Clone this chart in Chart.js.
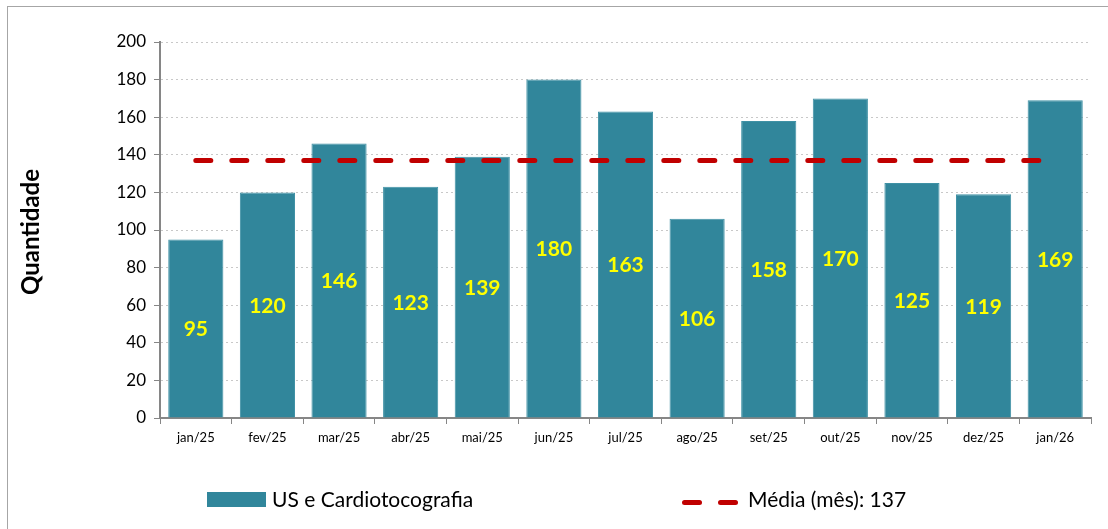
<!DOCTYPE html>
<html>
<head>
<meta charset="utf-8">
<script src="https://cdn.jsdelivr.net/npm/chart.js@4.4.0/dist/chart.umd.min.js"></script>
<style>
    body { margin: 0; background: #fff; font-family: Lato, sans-serif; }
    #wrap { position: relative; width: 1108px; height: 529px; }
    #frame { position: absolute; left: 7px; top: 6px; width: 1200px; height: 600px; border-left: 1px solid #a6a6a6; border-top: 1px solid #a6a6a6; }
    .leg { position: absolute; font-size: 21px; color: #000; line-height: 1; }
    .box { position: absolute; left: 207px; top: 492px; width: 59px; height: 15px; background: #31869b; }
    .dash { position: absolute; top: 500px; width: 20px; height: 5px; border-radius: 3px; background: #c00000; }
</style>
</head>
<body>
<div id="wrap">
    <div id="frame"></div>
    <canvas id="chart" width="1108" height="529"></canvas>
    <div class="box"></div>
    <div class="leg" style="left:272px; top:488px;">US e Cardiotocografia</div>
    <div class="dash" style="left:682px;"></div>
    <div class="dash" style="left:718px;"></div>
    <div class="leg" style="left:748px; top:488px;">Média (mês): 137</div>
</div>
<script>
const months = ['jan/25', 'fev/25', 'mar/25', 'abr/25', 'mai/25', 'jun/25', 'jul/25', 'ago/25', 'set/25', 'out/25', 'nov/25', 'dez/25', 'jan/26'];
const exams = [95, 120, 146, 123, 139, 180, 163, 106, 158, 170, 125, 119, 169];
const monthlyAvg = [137, 137, 137, 137, 137, 137, 137, 137, 137, 137, 137, 137, 137];
const yTicks = [0, 20, 40, 60, 80, 100, 120, 140, 160, 180, 200];
const yTitle = 'Quantidade';

// yellow numbers in the middle of each bar + rotated axis title
const barLabels = {
    id: 'barLabels',
    afterDatasetsDraw(chart) {
        const ctx = chart.ctx;
        const meta = chart.getDatasetMeta(0);
        ctx.save();
        ctx.font = 'bold 21px Lato, sans-serif';
        ctx.fillStyle = '#ffff00';
        ctx.textAlign = 'center';
        ctx.textBaseline = 'middle';
        meta.data.forEach((bar, i) => {
            ctx.fillText(exams[i], bar.x, (bar.y + bar.base) / 2 + 1);
        });
        ctx.restore();

        const area = chart.chartArea;
        ctx.save();
        ctx.translate(31, (area.top + area.bottom) / 2 + 2);
        ctx.rotate(-Math.PI / 2);
        ctx.font = 'bold 24px Lato, sans-serif';
        ctx.fillStyle = '#000';
        ctx.textAlign = 'center';
        ctx.textBaseline = 'middle';
        ctx.fillText(yTitle, 0, 0);
        ctx.restore();
    }
};

const ctx = document.getElementById('chart').getContext('2d');
new Chart(ctx, {
    type: 'bar',
    data: {
        labels: months,
        datasets: [{
            type: 'bar',
            label: 'US e Cardiotocografia',
            data: exams,
            backgroundColor: '#31869b',
            borderColor: '#3f91a5',
            borderWidth: 1,
            barPercentage: 0.77,
            categoryPercentage: 1,
            order: 2
        }, {
            type: 'line',
            label: 'Média (mês): 137',
            data: monthlyAvg,
            borderColor: '#c00000',
            borderWidth: 5,
            borderDash: [15, 21],
            borderCapStyle: 'round',
            pointRadius: 0,
            fill: false,
            order: 1
        }]
    },
    options: {
        responsive: false,
        animation: false,
        layout: { padding: { top: 42, right: 17, left: 0, bottom: 0 } },
        plugins: {
            legend: { display: false },
            tooltip: { enabled: false }
        },
        scales: {
            x: {
                grid: { drawOnChartArea: false, tickLength: 6, color: '#868686', offset: true },
                border: { color: '#868686', width: 2 },
                ticks: { color: '#000', font: { family: 'Lato', size: 13 }, padding: 6, maxRotation: 0 },
                afterFit(scale) { scale.height = 111; }
            },
            y: {
                min: 0,
                max: 200,
                afterBuildTicks(scale) { scale.ticks = yTicks.map(v => ({ value: v })); },
                grid: { color: '#c8c8c8', tickLength: 6, tickColor: '#868686', tickBorderDash: [] },
                border: { color: '#868686', width: 2, dash: [2, 3] },
                ticks: { color: '#000', font: { family: 'Lato', size: 17 }, padding: 8 },
                afterFit(scale) { scale.width = 160; }
            }
        }
    },
    plugins: [barLabels]
});
</script>
</body>
</html>
